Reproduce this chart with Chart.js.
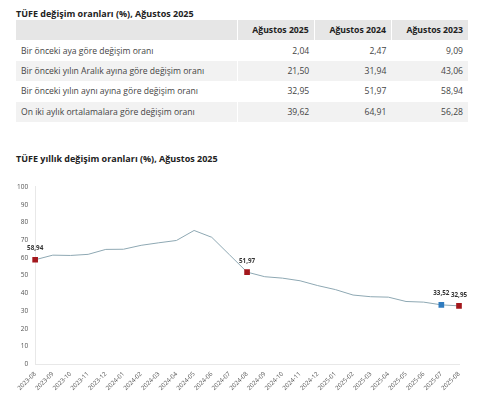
<!DOCTYPE html>
<html>
<head>
<meta charset="utf-8">
<script src="https://cdn.jsdelivr.net/npm/chart.js@4"></script>
<style>
  body { margin: 0; background: #fff; font-family: "Open Sans", sans-serif; color: #333; }
  #wrap { position: relative; width: 480px; height: 410px; overflow: hidden; }
  h3 { margin: 0; font-size: 9px; font-weight: 700; color: #222; position: absolute; left: 16px; }
  table { position: absolute; left: 16px; top: 20px; width: 452px; border-collapse: collapse; font-size: 8.6px; }
  th, td { height: 20.4px; padding: 0 5px; text-align: right; }
  th { background: #e6e6e6; font-weight: 700; font-size: 8.7px; color: #222; border-left: 1px solid #fff; }
  th:first-child { border-left: none; }
  td { color: #444; }
  td:first-child { text-align: left; border-right: 1px solid #fff; }
  tr.alt td { background: #f2f2f2; }
  #chartBox { position: absolute; left: 0; top: 176px; width: 480px; height: 234px; }
</style>
</head>
<body>
<div id="wrap">
  <h3 style="top:7px">TÜFE değişim oranları (%), Ağustos 2025</h3>
  <table id="tbl"></table>
  <h3 style="top:152px">TÜFE yıllık değişim oranları (%), Ağustos 2025</h3>
  <div id="chartBox"><canvas id="cpi-chart"></canvas></div>
</div>
<script>
	'use strict';

	// Table data
	const tableCols = [ 'Ağustos 2025', 'Ağustos 2024', 'Ağustos 2023' ];
	const tableRows = [
		'Bir önceki aya göre değişim oranı',
		'Bir önceki yılın Aralık ayına göre değişim oranı',
		'Bir önceki yılın aynı ayına göre değişim oranı',
		'On iki aylık ortalamalara göre değişim oranı'
	];
	const tableValues = [
		[ '2,04', '2,47', '9,09' ],
		[ '21,50', '31,94', '43,06' ],
		[ '32,95', '51,97', '58,94' ],
		[ '39,62', '64,91', '56,28' ]
	];

	// Chart data
	const months = [
		'2023-08', '2023-09', '2023-10', '2023-11', '2023-12',
		'2024-01', '2024-02', '2024-03', '2024-04', '2024-05', '2024-06', '2024-07', '2024-08',
		'2024-09', '2024-10', '2024-11', '2024-12',
		'2025-01', '2025-02', '2025-03', '2025-04', '2025-05', '2025-06', '2025-07', '2025-08'
	];
	const annualRates = [
		58.94, 61.53, 61.36, 61.98, 64.77,
		64.86, 67.07, 68.50, 69.80, 75.45, 71.60, 61.78, 51.97,
		49.38, 48.58, 47.09, 44.38,
		42.12, 39.05, 38.10, 37.86, 35.41, 35.05, 33.52, 32.95
	];
	// months that get a marker + value label
	const highlightRed  = [ '2023-08', '2024-08', '2025-08' ];
	const highlightBlue = [ '2025-07' ];

	// build table
	let tbl = document.getElementById( 'tbl' );
	let html = '<tr><th></th>' + tableCols.map( c => '<th>' + c + '</th>' ).join( '' ) + '</tr>';
	for ( let i = 0; i < tableRows.length; i++ ) {
		html += '<tr' + ( i % 2 ? ' class="alt"' : '' ) + '><td>' + tableRows[i] + '</td>' +
			tableValues[i].map( v => '<td>' + v + '</td>' ).join( '' ) + '</tr>';
	}
	tbl.innerHTML = html;

	let pointColors = months.map( m => highlightBlue.includes( m ) ? '#2f7bbf' : '#a3171c' );
	let pointSizes  = months.map( m => ( highlightRed.includes( m ) || highlightBlue.includes( m ) ) ? 4 : 0 );

	// value labels above highlighted points
	const valueLabels = {
		id: 'valueLabels',
		afterDatasetsDraw( chart ) {
			const ctx = chart.ctx;
			const meta = chart.getDatasetMeta( 0 );
			ctx.save();
			ctx.font = 'bold 6.3px "Open Sans", sans-serif';
			ctx.fillStyle = '#333';
			ctx.textAlign = 'center';
			ctx.textBaseline = 'bottom';
			meta.data.forEach( ( pt, i ) => {
				if ( pointSizes[i] > 0 ) {
					ctx.fillText( annualRates[i].toFixed( 2 ).replace( '.', ',' ), pt.x, pt.y - 8 );
				}
			});
			ctx.restore();
		}
	};

	let ctx = document.getElementById( 'cpi-chart' );
	let myChart = new Chart( ctx, {
		type: 'line',
		data: {
			labels: months,
			datasets: [
				{
					data: annualRates,
					borderColor: '#8ea8b3',
					borderWidth: 1,
					tension: 0,
					fill: false,
					pointStyle: 'rect',
					pointRadius: pointSizes,
					pointHoverRadius: pointSizes,
					pointBackgroundColor: pointColors,
					pointBorderColor: pointColors,
					pointBorderWidth: 0
				}
			]
		},
		options: {
			responsive: true,
			maintainAspectRatio: false,
			animation: false,
			layout: { padding: { left: 10, right: 21, top: 4, bottom: 12 } },
			plugins: {
				legend: { display: false },
				tooltip: { enabled: false }
			},
			scales: {
				x: {
					offset: false,
					grid: { display: false, drawTicks: false },
					border: { color: '#e8e8e8' },
					ticks: {
						color: '#555',
						padding: 6,
						font: { size: 6.2, family: '"Open Sans", sans-serif' },
						maxRotation: 45,
						minRotation: 45,
						autoSkip: false
					}
				},
				y: {
					min: 0,
					max: 100,
					grid: { display: false, drawTicks: false },
					border: { color: '#e8e8e8' },
					ticks: {
						stepSize: 10,
						color: '#555',
						padding: 7,
						font: { size: 6.5, family: '"Open Sans", sans-serif' }
					}
				}
			}
		},
		plugins: [ valueLabels ]
	});
</script>
</body>
</html>
